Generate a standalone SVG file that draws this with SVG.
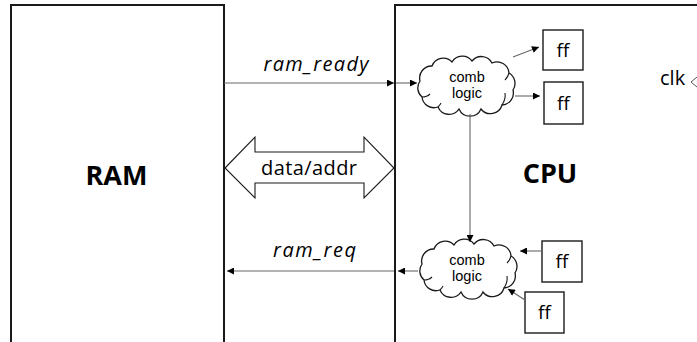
<svg xmlns="http://www.w3.org/2000/svg" width="697" height="342" viewBox="0 0 697 342">
<style>
  .blk{fill:none;stroke:#1a1a1a;stroke-width:2}
  .ff{fill:#fff;stroke:#1a1a1a;stroke-width:1.4}
  .cloud{fill:#fff;stroke:#1a1a1a;stroke-width:1.3}
  .curl{fill:none;stroke:#1a1a1a;stroke-width:1.1}
  .conn{fill:none;stroke:#666;stroke-width:1.1;marker-end:url(#ah)}
  .t{font-family:"Open Sans","Liberation Sans",Arial,sans-serif;fill:#000;text-anchor:middle}
  .big{font-size:27px;font-weight:bold}
  .lbl{font-size:20px;font-style:italic}
  .sm{font-family:"Liberation Sans",Arial,sans-serif;font-size:14.5px}
  .ffT{font-size:19px}
</style>
<defs>
  <marker id="ah" viewBox="0 0 10 10" refX="10" refY="5" markerWidth="8" markerHeight="7" markerUnits="userSpaceOnUse" orient="auto">
    <path d="M0,0 L10,5 L0,10 z" fill="#000"/>
  </marker>
  <g id="cloudShape">
    <path class="cloud" d="M6,26 A12,12 0 0 1 18,11 A12,12 0 0 1 38,7 A12,12 0 0 1 58,6 A12,12 0 0 1 78,8 A12,12 0 0 1 95,18 A12,12 0 0 1 99,35 A12,12 0 0 1 88,50 A12,12 0 0 1 67,54 A12,12 0 0 1 45,54 A12,12 0 0 1 24,52 A12,12 0 0 1 8,42 A12,12 0 0 1 6,26 z"/>
    <path class="curl" d="M8,42 Q13,42 16,39"/>
    <path class="curl" d="M88,50 Q92,44 91,38"/>
    <path class="curl" d="M95,18 Q94,22 91,25"/>
    <path class="curl" d="M24,52 Q26,50 27,48"/>
  </g>
</defs>
<rect width="697" height="342" fill="#fff"/>

<g id="ram">
  <path class="blk" d="M11,342 V5 H224 V342"/>
  <text class="t big" x="116.5" y="185">RAM</text>
</g>

<g id="cpu">
  <path class="blk" d="M395,342 V5 H697"/>
  <text class="t big" x="550" y="183">CPU</text>
</g>

<g id="bus">
  <path d="M225,168 L255,137 L255,152 L364,152 L364,137 L394,168 L364,198 L364,183 L255,183 L255,198 z" fill="#fff" stroke="#1a1a1a" stroke-width="1.1"/>
  <text class="t" x="309" y="175" font-size="20" textLength="96">data/addr</text>
</g>

<g id="comb1">
  <use href="#cloudShape" transform="translate(414,55)"/>
  <text class="t sm" x="467" y="81.5">comb</text>
  <text class="t sm" x="467" y="98">logic</text>
</g>

<g id="comb2">
  <use href="#cloudShape" transform="translate(416,238)"/>
  <text class="t sm" x="467" y="264.5">comb</text>
  <text class="t sm" x="467" y="281">logic</text>
</g>

<g id="ff1">
  <rect class="ff" x="543" y="30" width="40" height="40"/>
  <text class="t ffT" x="563" y="57">ff</text>
</g>
<g id="ff2">
  <rect class="ff" x="544" y="82" width="39" height="42"/>
  <text class="t ffT" x="563.5" y="110">ff</text>
</g>
<g id="ff3">
  <rect class="ff" x="542" y="241" width="40" height="41"/>
  <text class="t ffT" x="562" y="268">ff</text>
</g>
<g id="ff4">
  <rect class="ff" x="525" y="292" width="39" height="41"/>
  <text class="t ffT" x="544.5" y="319">ff</text>
</g>

<g id="clk">
  <text x="660" y="85" font-family="'Open Sans','Liberation Sans',Arial,sans-serif" font-size="20">clk</text>
  <polyline points="697,77 691,82 697,87" fill="none" stroke="#555" stroke-width="1"/>
</g>

<g id="connectors">
  <line class="conn" x1="224" y1="83" x2="394" y2="83"/>
  <line class="conn" x1="396" y1="83" x2="417" y2="83"/>
  <line class="conn" x1="513" y1="57" x2="539" y2="47"/>
  <line class="conn" x1="515" y1="96" x2="540" y2="96"/>
  <line class="conn" x1="470" y1="114" x2="470" y2="242"/>
  <line class="conn" x1="542" y1="251" x2="520" y2="251"/>
  <line class="conn" x1="525" y1="300" x2="508" y2="289"/>
  <line class="conn" x1="418" y1="271" x2="398" y2="271"/>
  <line class="conn" x1="394" y1="271" x2="227" y2="271"/>
</g>

<g id="labels">
  <text class="t lbl" x="316" y="71" textLength="105">ram_ready</text>
  <text class="t lbl" x="314.5" y="257" textLength="83">ram_req</text>
</g>
</svg>
